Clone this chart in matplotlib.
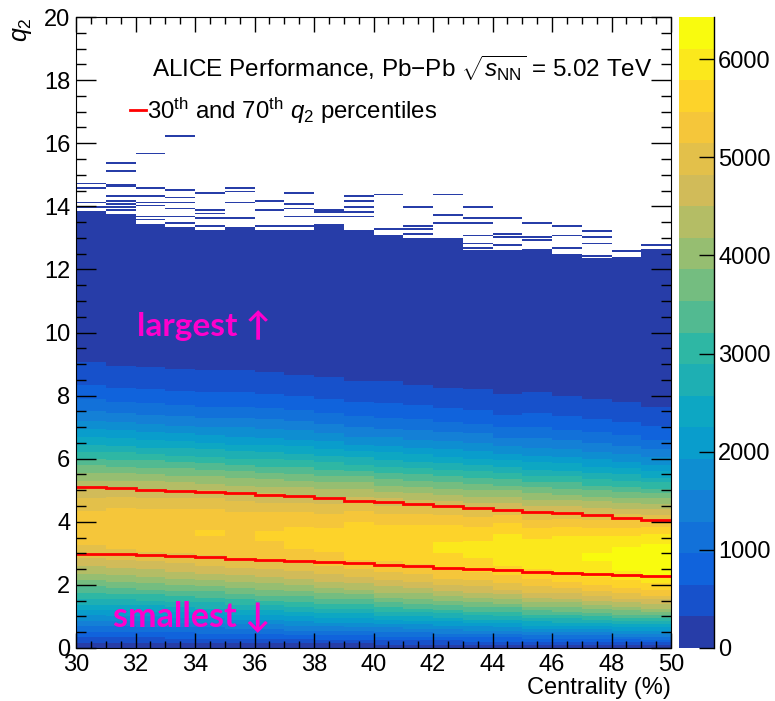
import numpy as np
import matplotlib
matplotlib.use("Agg")
import matplotlib.pyplot as plt
from matplotlib.colors import LinearSegmentedColormap, ListedColormap, BoundaryNorm

plt.rcParams["font.family"] = ["Liberation Sans", "DejaVu Sans"]
plt.rcParams["mathtext.fontset"] = "custom"
plt.rcParams["mathtext.rm"] = "Liberation Sans"
plt.rcParams["mathtext.it"] = "Liberation Sans:italic"
plt.rcParams["mathtext.bf"] = "Liberation Sans:bold"

# --- data ----------------------------------------------------------------
cent_lo, cent_hi = 30, 50            # centrality range (%), 1% bins
q2_max, q2_bin = 20.0, 0.05

# 30th and 70th q2 percentiles per centrality bin (red step lines)
q2_p30 = [2.99, 2.97, 2.94, 2.91, 2.88, 2.83, 2.80, 2.77, 2.72, 2.69,
          2.63, 2.60, 2.55, 2.51, 2.48, 2.41, 2.39, 2.34, 2.30, 2.27]
q2_p70 = [5.11, 5.06, 5.02, 4.98, 4.94, 4.90, 4.86, 4.81, 4.75, 4.67,
          4.62, 4.57, 4.50, 4.45, 4.37, 4.32, 4.27, 4.20, 4.13, 4.06]

# top of the continuously filled region per bin
q2_filled_top = [13.83, 13.75, 13.46, 13.35, 13.25, 13.35, 13.25, 13.25, 13.46, 13.25,
                 13.10, 13.00, 13.00, 12.60, 12.60, 12.65, 12.50, 12.35, 12.40, 12.65]

# isolated single entries above the filled region
q2_single_entries = [
    [13.99, 14.13, 14.56, 14.73],
    [13.88, 13.97, 14.07, 14.20, 14.34, 14.62, 14.68, 15.10, 15.35],
    [13.57, 13.69, 14.01, 14.11, 14.33, 14.56, 15.70],
    [13.47, 13.68, 13.90, 14.14, 14.25, 14.52, 16.21],
    [13.35, 13.60, 13.76, 13.88, 14.44],
    [13.60, 14.11, 14.49, 14.59],
    [13.37, 13.87, 14.15],
    [13.38, 13.65, 13.91, 14.09, 14.41],
    [13.67, 13.80, 13.88],
    [13.66, 13.82, 13.97, 14.18, 14.31],
    [13.25, 14.37],
    [13.12, 13.28, 13.37, 13.96],
    [13.48, 13.72, 14.37],
    [12.68, 12.83, 13.08, 13.47, 13.60, 13.97],
    [12.75, 13.03, 13.10, 13.64],
    [12.90, 13.00, 13.48],
    [12.67, 13.06, 13.35],
    [12.45, 12.80, 13.02, 13.23],
    [12.59],
    [12.78],
]

peak_count = 6350      # brightest cell
z_max = 6430           # top of the colour scale
n_levels = 20
cbar_ticks = [0, 1000, 2000, 3000, 4000, 5000, 6000]

# --- build the 2D histogram ------------------------------------------------
cent_edges = np.arange(cent_lo, cent_hi + 1)
q_edges = np.arange(0, q2_max + q2_bin / 2, q2_bin)
q_c = 0.5 * (q_edges[1:] + q_edges[:-1])

# Bessel-Gaussian shape matched to the two percentiles of each bin
x = np.linspace(0, 15, 3001)
r_grid = np.linspace(0, 3, 301)
p30_std, p70_std = [], []
for r in r_grid:
    pdf = x * np.exp(-(x**2 + r**2) / 2) * np.i0(x * r)
    cdf = np.cumsum(pdf)
    cdf /= cdf[-1]
    p30_std.append(np.interp(0.3, cdf, x))
    p70_std.append(np.interp(0.7, cdf, x))
p30_std, p70_std = np.array(p30_std), np.array(p70_std)
ratio_std = p70_std / p30_std

hist = np.zeros((len(q2_p30), len(q_c)))
for i, (a, b) in enumerate(zip(q2_p30, q2_p70)):
    r = np.interp(b / a, ratio_std[::-1], r_grid[::-1])
    sig = a / np.interp(r, r_grid, p30_std)
    v = r * sig
    hist[i] = q_c / sig**2 * np.exp(-(q_c**2 + v**2) / (2 * sig**2)) * np.i0(q_c * v / sig**2)
hist *= peak_count / hist.max()
hist = np.maximum(np.rint(hist), 1)
for i in range(len(hist)):
    hist[i, q_c > q2_filled_top[i]] = 0
    for q in q2_single_entries[i]:
        hist[i, int(q / q2_bin)] = 1

# --- ROOT kBird palette with 20 contours ------------------------------------
bird_r = [0.2082, 0.0592, 0.0780, 0.0232, 0.1802, 0.5301, 0.8186, 0.9956, 0.9764]
bird_g = [0.1664, 0.3599, 0.5041, 0.6419, 0.7178, 0.7492, 0.7328, 0.7862, 0.9832]
bird_b = [0.5293, 0.8684, 0.8385, 0.7914, 0.6425, 0.4662, 0.3499, 0.1968, 0.0539]
bird = LinearSegmentedColormap.from_list("bird", list(zip(bird_r, bird_g, bird_b)), N=255)
cmap = ListedColormap([bird(int((i + 0.99) * 255 / n_levels) / 254) for i in range(n_levels)])
cmap.set_bad("white")
cmap.set_over(cmap(n_levels - 1))
levels = np.linspace(0, z_max, n_levels + 1)
norm = BoundaryNorm(levels, n_levels)

fig = plt.figure(figsize=(7.75, 7.01), dpi=100)
ax = fig.add_axes([76 / 775, 53 / 701, 595 / 775, 631 / 701])
cax = fig.add_axes([679 / 775, 53 / 701, 35 / 775, 631 / 701])

mesh = ax.pcolormesh(cent_edges, q_edges, np.ma.masked_less_equal(hist.T, 0),
                     cmap=cmap, norm=norm)
ax.stairs(q2_p30, cent_edges, baseline=None, color="red", lw=2)
ax.stairs(q2_p70, cent_edges, baseline=None, color="red", lw=2)

ax.set_xlim(cent_lo, cent_hi)
ax.set_ylim(0, q2_max)
ax.set_xticks(np.arange(30, 51, 2))
ax.set_xticks(np.arange(30, 50.01, 0.5), minor=True)
ax.set_yticks(np.arange(0, 21, 2))
ax.set_yticks(np.arange(0, 20.01, 0.5), minor=True)
ax.tick_params(which="both", direction="in", top=True, right=True, labelsize=17, width=1)
ax.tick_params(axis="x", which="major", length=10.8, pad=4)
ax.tick_params(axis="x", which="minor", length=5.2)
ax.tick_params(axis="y", which="major", length=14.4, pad=4)
ax.tick_params(axis="y", which="minor", length=7.2)

ax.text(-0.091, 1.0, r"$q_{2}$", rotation=90, ha="center", va="top",
        fontsize=18, transform=ax.transAxes)
ax.text(1.0, -0.063, "Centrality (%)", ha="right", va="center",
        fontsize=17, transform=ax.transAxes)

ax.text(0.128, 0.905, r"ALICE Performance, Pb$-$Pb $\sqrt{s_{\mathrm{NN}}}$ = 5.02 TeV",
        fontsize=17.5, transform=ax.transAxes, va="baseline")
ax.plot([0.091, 0.118], [0.853, 0.853], color="red", lw=2, transform=ax.transAxes)
ax.text(0.12, 0.838, r"30$^{\mathrm{th}}$ and 70$^{\mathrm{th}}$ $q_{2}$ percentiles",
        fontsize=17.3, transform=ax.transAxes, va="baseline")

ax.text(32.05, 9.9, "largest \u2191", color="#ff00cc", fontsize=24, fontweight="bold",
        family=["Lato", "DejaVu Sans"], va="baseline")
ax.text(31.24, 0.7, "smallest \u2193", color="#ff00cc", fontsize=24.5, fontweight="bold",
        family=["Lato", "DejaVu Sans"], va="baseline")

cbar = fig.colorbar(mesh, cax=cax, ticks=cbar_ticks, extend="neither")
cbar.outline.set_visible(False)
cax.plot([1, 1], [0, 1], color="black", lw=1, transform=cax.transAxes, clip_on=False)
cax.tick_params(direction="in", length=11, width=1, labelsize=17, pad=3)
cax.minorticks_off()

fig.savefig("out.png", dpi=100)
